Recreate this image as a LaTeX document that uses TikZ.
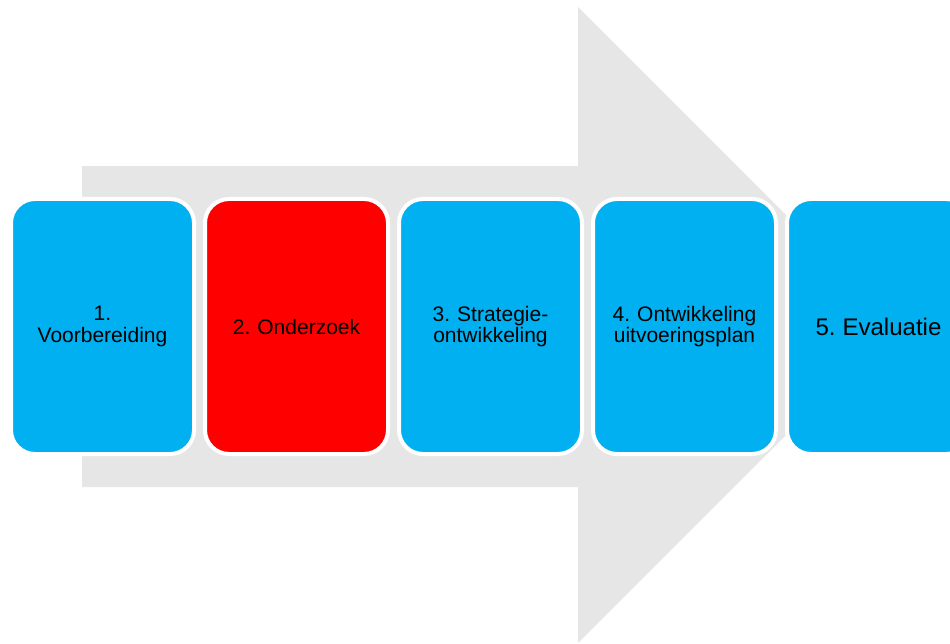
\documentclass[tikz,border=0pt]{standalone}
\usepackage{fontspec}
\setmainfont{Liberation Sans}
\frenchspacing
\usetikzlibrary{positioning}
\definecolor{pijlgrijs}{RGB}{231,230,230}
\definecolor{blauw}{RGB}{0,176,240}
\definecolor{rood}{RGB}{255,0,0}
\tikzset{
  fase/.style={draw=white, line width=4pt, rounded corners=24pt,
    minimum width=183pt, minimum height=255pt, inner sep=0pt,
    align=center, text width=170pt, font=\fontsize{21}{21.5}\selectfont}
}

\begin{document}
\begin{tikzpicture}[x=1pt,y=-1pt] % Pixelkoordinaten
    \clip (0,0) rectangle (950,644);
    \useasboundingbox (0,0) rectangle (950,644);
    % grote grijze pijl op de achtergrond
    \fill[pijlgrijs] (82,166) -- (578,166) -- (578,7) -- (896,325)
        -- (578,643) -- (578,487) -- (82,487) -- cycle;
    % de vijf fasen
    \foreach \i/\kleur/\tekst in {
        1/blauw/{1.\\Voorbereiding},
        2/rood/{2. Onderzoek},
        3/blauw/{3. Strategie-\\ontwikkeling},
        4/blauw/{4. Ontwikkeling\\uitvoeringsplan},
        5/blauw/{{\fontsize{24}{26}\selectfont 5. Evaluatie}}} {
        \node[fase, fill=\kleur] (fase\i) at ({102.5+194*(\i-1)},326.5) {\tekst};
    }
\end{tikzpicture}
\end{document}
